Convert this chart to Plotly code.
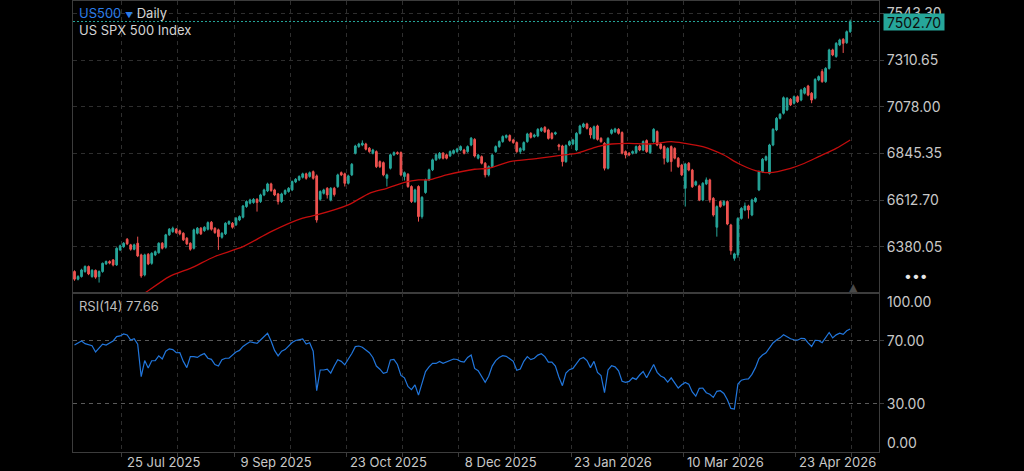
import plotly.graph_objects as go
from plotly.subplots import make_subplots

# ---------------- data ----------------
open_ = [
    6256, 6218, 6231, 6256, 6281, 6231, 6262, 6231, 6256, 6294,
    6306, 6314, 6289, 6364, 6380, 6417, 6389, 6367, 6397, 6339,
    6239, 6342, 6297, 6339, 6350, 6397, 6377, 6439, 6455, 6467,
    6459, 6447, 6422, 6397, 6372, 6447, 6472, 6460, 6467, 6502,
    6472, 6464, 6427, 6444, 6494, 6497, 6489, 6513, 6527, 6580,
    6597, 6600, 6616, 6605, 6638, 6658, 6693, 6663, 6643, 6605,
    6643, 6655, 6663, 6703, 6713, 6726, 6743, 6730, 6754, 6733,
    6616, 6646, 6671, 6613, 6671, 6680, 6749, 6743, 6696, 6738,
    6846, 6879, 6887, 6892, 6871, 6846, 6854, 6804, 6799, 6721,
    6771, 6838, 6849, 6849, 6730, 6741, 6680, 6605, 6680, 6530,
    6650, 6713, 6763, 6813, 6821, 6846, 6838, 6833, 6846, 6854,
    6862, 6862, 6854, 6887, 6915, 6821, 6829, 6796, 6738, 6779,
    6854, 6879, 6904, 6925, 6934, 6912, 6899, 6854, 6862, 6904,
    6945, 6929, 6932, 6958, 6975, 6962, 6945, 6942, 6887, 6882,
    6804, 6887, 6892, 6862, 6945, 6978, 6992, 6970, 6920, 6982,
    6920, 6895, 6771, 6945, 6953, 6965, 6949, 6854, 6846, 6846,
    6849, 6882, 6862, 6909, 6849, 6904, 6954, 6892, 6879, 6804,
    6879, 6870, 6821, 6787, 6671, 6796, 6762, 6688, 6683, 6613,
    6693, 6713, 6621, 6477, 6605, 6588, 6605, 6488, 6322, 6339,
    6521, 6563, 6583, 6538, 6605, 6663, 6754, 6812, 6746, 6887,
    6962, 7020, 7045, 7062, 7115, 7095, 7128, 7111, 7145, 7181,
    7145, 7120, 7211, 7253, 7203, 7269, 7361, 7328, 7386, 7414,
    7397, 7452,
]
high = [
    6262, 6238, 6270, 6287, 6286, 6268, 6266, 6262, 6301, 6311,
    6312, 6318, 6377, 6390, 6403, 6423, 6394, 6395, 6430, 6345,
    6345, 6348, 6352, 6361, 6402, 6403, 6444, 6473, 6480, 6473,
    6465, 6452, 6428, 6402, 6470, 6478, 6478, 6482, 6506, 6508,
    6477, 6470, 6452, 6502, 6511, 6503, 6528, 6536, 6588, 6611,
    6619, 6622, 6622, 6644, 6669, 6699, 6699, 6669, 6648, 6649,
    6666, 6677, 6710, 6722, 6736, 6749, 6749, 6755, 6760, 6740,
    6661, 6669, 6677, 6677, 6678, 6744, 6755, 6749, 6739, 6797,
    6888, 6898, 6910, 6898, 6877, 6868, 6860, 6810, 6805, 6744,
    6844, 6855, 6855, 6855, 6755, 6747, 6686, 6669, 6686, 6632,
    6719, 6769, 6819, 6844, 6852, 6852, 6844, 6860, 6865, 6873,
    6885, 6868, 6885, 6927, 6921, 6843, 6835, 6802, 6785, 6843,
    6885, 6910, 6935, 6940, 6940, 6918, 6905, 6876, 6905, 6948,
    6951, 6943, 6971, 6976, 6981, 6968, 6951, 6954, 6893, 6888,
    6890, 6910, 6918, 6951, 6988, 6998, 6998, 6976, 6984, 6988,
    6926, 6901, 6926, 6968, 6973, 6971, 6955, 6860, 6852, 6860,
    6885, 6888, 6910, 6915, 6893, 6971, 6960, 6898, 6885, 6876,
    6885, 6876, 6827, 6793, 6798, 6802, 6768, 6710, 6689, 6702,
    6725, 6719, 6627, 6586, 6611, 6611, 6611, 6494, 6350, 6527,
    6577, 6600, 6589, 6619, 6627, 6760, 6822, 6835, 6893, 6971,
    7026, 7046, 7129, 7126, 7121, 7134, 7134, 7167, 7176, 7187,
    7151, 7220, 7234, 7265, 7275, 7367, 7367, 7400, 7417, 7420,
    7458, 7512,
]
low = [
    6210, 6212, 6226, 6250, 6238, 6225, 6220, 6201, 6250, 6289,
    6292, 6282, 6284, 6358, 6374, 6388, 6360, 6362, 6328, 6225,
    6232, 6288, 6290, 6333, 6345, 6366, 6370, 6434, 6449, 6444,
    6437, 6408, 6388, 6360, 6366, 6441, 6438, 6454, 6461, 6460,
    6444, 6364, 6420, 6438, 6488, 6470, 6483, 6507, 6521, 6574,
    6591, 6594, 6555, 6598, 6632, 6652, 6653, 6632, 6590, 6598,
    6637, 6649, 6657, 6697, 6707, 6720, 6714, 6724, 6714, 6500,
    6608, 6640, 6620, 6606, 6630, 6673, 6732, 6680, 6690, 6732,
    6840, 6873, 6881, 6860, 6848, 6840, 6772, 6772, 6731, 6680,
    6765, 6832, 6838, 6731, 6710, 6673, 6598, 6598, 6505, 6520,
    6644, 6707, 6757, 6807, 6815, 6815, 6815, 6827, 6840, 6848,
    6856, 6840, 6848, 6881, 6825, 6815, 6790, 6725, 6730, 6773,
    6848, 6873, 6898, 6919, 6903, 6893, 6848, 6842, 6856, 6898,
    6919, 6923, 6926, 6952, 6947, 6914, 6914, 6936, 6860, 6780,
    6798, 6881, 6886, 6856, 6939, 6972, 6964, 6920, 6914, 6909,
    6898, 6760, 6765, 6939, 6947, 6939, 6840, 6820, 6831, 6840,
    6843, 6856, 6856, 6848, 6843, 6898, 6881, 6864, 6790, 6798,
    6754, 6815, 6773, 6732, 6580, 6756, 6673, 6682, 6607, 6607,
    6687, 6600, 6530, 6430, 6574, 6582, 6487, 6340, 6310, 6325,
    6515, 6557, 6520, 6532, 6599, 6657, 6748, 6806, 6740, 6881,
    6956, 7014, 7039, 7056, 7081, 7089, 7097, 7105, 7139, 7130,
    7095, 7114, 7205, 7197, 7197, 7263, 7330, 7322, 7380, 7346,
    7391, 7446,
]
close = [
    6218, 6231, 6264, 6281, 6244, 6262, 6228, 6256, 6297, 6306,
    6298, 6289, 6372, 6384, 6397, 6394, 6367, 6389, 6334, 6234,
    6339, 6294, 6347, 6355, 6397, 6372, 6439, 6467, 6472, 6450,
    6444, 6414, 6394, 6367, 6464, 6472, 6444, 6477, 6500, 6467,
    6450, 6430, 6447, 6497, 6505, 6477, 6522, 6530, 6583, 6605,
    6613, 6616, 6600, 6638, 6663, 6693, 6660, 6638, 6605, 6643,
    6660, 6671, 6705, 6716, 6730, 6743, 6721, 6749, 6721, 6513,
    6655, 6663, 6638, 6671, 6640, 6738, 6738, 6696, 6733, 6791,
    6882, 6892, 6896, 6866, 6854, 6862, 6779, 6779, 6738, 6738,
    6838, 6849, 6844, 6738, 6749, 6680, 6605, 6663, 6530, 6626,
    6713, 6763, 6813, 6838, 6846, 6821, 6821, 6854, 6859, 6867,
    6879, 6846, 6879, 6921, 6832, 6837, 6796, 6738, 6779, 6837,
    6879, 6904, 6929, 6934, 6909, 6899, 6854, 6870, 6899, 6942,
    6925, 6937, 6965, 6970, 6953, 6920, 6920, 6948, 6879, 6804,
    6884, 6904, 6912, 6945, 6982, 6992, 6970, 6937, 6978, 6915,
    6904, 6771, 6920, 6962, 6967, 6945, 6846, 6837, 6837, 6854,
    6879, 6862, 6904, 6854, 6887, 6965, 6887, 6870, 6821, 6870,
    6804, 6821, 6779, 6738, 6792, 6762, 6679, 6704, 6613, 6696,
    6713, 6613, 6538, 6580, 6580, 6605, 6493, 6360, 6344, 6521,
    6571, 6583, 6563, 6613, 6621, 6754, 6816, 6829, 6887, 6965,
    7020, 7040, 7123, 7120, 7087, 7128, 7103, 7161, 7170, 7136,
    7111, 7214, 7228, 7203, 7269, 7361, 7336, 7394, 7411, 7394,
    7452, 7502.70,
]
rsi = [
    67.5, 68.5, 70, 68.3, 67.4, 67, 63, 65.3, 68, 67.4,
    68.5, 70, 72.8, 73.2, 74.5, 73.8, 70.6, 71.5, 68, 47.2,
    57.5, 52.8, 57.4, 57.5, 60.5, 58.5, 63.5, 65, 64.5, 62.5,
    62.6, 57, 53, 60, 60, 59.5, 61, 62, 59, 58.3,
    55, 54, 58, 59, 59, 61, 63, 64, 66.5, 68,
    69.5, 69, 68.5, 70.6, 73, 74.9, 70, 64, 60.5, 63.5,
    64.5, 66.5, 69, 70.3, 70.6, 71.3, 68, 68.9, 63.5, 38.3,
    51.5, 51.5, 52, 49.5, 54, 58, 57, 54.8, 58.5, 62,
    66.4, 66.8, 66, 64.5, 62.5, 59.5, 54, 52, 49.4, 50,
    57.9, 58.3, 55, 48, 46.5, 41, 39, 42, 35.5, 43,
    50.5, 53.5, 55.7, 55.7, 57, 55.8, 56.8, 58, 58.5, 58.2,
    57, 56.5, 59.5, 61,
    52.5, 51, 47.5, 43.6, 47.5, 54, 57.5, 59.5, 60.6, 60.2,
    58.7, 57, 51.3, 52.1, 57, 60, 58.1, 59, 61, 61.9,
    60, 56.5, 56.5, 54, 47, 41.5, 49.6, 51.7, 52.5, 55.5,
    58.5, 59.5, 57.5, 53, 57, 50, 48, 37, 51.5, 54.2,
    53.5, 51, 44.3, 43.6, 44.2, 46.5, 45.5, 48.3, 50.5, 46.5,
    51, 55, 50, 47.7, 46.5, 43.8, 46.5, 43, 40, 42.1,
    43.6, 42.5, 37.5, 34.8, 39.8, 40, 37, 36, 34, 37.9,
    38.3, 36.5, 32.5, 27, 26.6, 42.5, 45, 45.6, 45.8, 48.7,
    53, 58.8, 61, 62.5, 65.5, 68.7, 70.6, 72, 74, 72.5,
    71.4, 70.8, 70.5, 71.7, 71.5, 68.8, 66.5, 70.4, 70.3, 68.9,
    72.5, 75.4, 72, 73.9, 75, 74.2, 76.5, 77.66,
]
# moving average line, read at sample bars
sma_bar = [16, 20, 27, 33, 40, 48, 56, 65, 69, 78, 84, 89, 94, 98, 101, 106,
           114, 118, 124, 132, 139, 143, 149, 153, 158, 164, 170, 174, 179,
           185, 189, 194, 198, 204, 208, 212, 217, 221]
sma_val = [6100, 6148, 6231, 6272, 6331, 6380, 6455, 6522, 6538, 6588, 6646,
           6671, 6701, 6713, 6713, 6738, 6766, 6771, 6804, 6820, 6837, 6845,
           6879, 6892, 6895, 6892, 6904, 6895, 6879, 6837, 6796, 6759, 6749,
           6771, 6796, 6829, 6870, 6912]

date_labels = ["25 Jul 2025", "9 Sep 2025", "23 Oct 2025", "8 Dec 2025",
               "23 Jan 2026", "10 Mar 2026", "23 Apr 2026"]
price_ticks = [6380.05, 6612.70, 6845.35, 7078.00, 7310.65, 7543.30]
rsi_ticks = [30, 70]
rsi_edge_ticks = [100, 0]

symbol = "US500"
interval = "Daily"
instrument = "US SPX 500 Index"
rsi_period = 14

# ---------------- styling ----------------
BG = "#000000"
UP = "#26a69a"
DOWN = "#ef5350"
SMA_COL = "#c40d0d"
RSI_COL = "#2176dc"
BORDER = "#3c3c3c"
GRID = "#2e2e2e"
RSI_GRID = "#5a5a5a"
TXT = "#c8c8c8"
FONT = "Inter"
AX_SIZE = 14

bars = list(range(len(close)))

# vertical grid every 16 bars, labels on every second one
grid_pos = [13.45 + 16 * k for k in range(14)]
grid_text = [date_labels[k // 2] if k % 2 == 0 else "" for k in range(14)]

fig = make_subplots(rows=2, cols=1, shared_xaxes=True, vertical_spacing=0,
                    row_heights=[292, 159])

fig.add_trace(go.Candlestick(
    x=bars, open=open_, high=high, low=low, close=close,
    increasing=dict(line=dict(color=UP, width=1), fillcolor=UP),
    decreasing=dict(line=dict(color=DOWN, width=1), fillcolor=DOWN),
    whiskerwidth=0, hoverinfo="skip", showlegend=False), row=1, col=1)

fig.add_trace(go.Scatter(
    x=sma_bar, y=sma_val, mode="lines",
    line=dict(color=SMA_COL, width=1.3, shape="spline", smoothing=0.7),
    hoverinfo="skip", showlegend=False), row=1, col=1)

fig.add_trace(go.Scatter(
    x=bars, y=rsi, mode="lines", line=dict(color=RSI_COL, width=1.2),
    hoverinfo="skip", showlegend=False), row=2, col=1)

xcommon = dict(range=[-0.43, 229.2], tickmode="array", tickvals=grid_pos,
               showgrid=True, gridcolor=GRID, griddash="4px,4px", gridwidth=1,
               showline=True, mirror=True, linecolor=BORDER, linewidth=1,
               zeroline=False, automargin=False,
               rangeslider=dict(visible=False))
fig.update_xaxes(**xcommon)
fig.update_xaxes(showticklabels=False, ticks="", row=1, col=1)
fig.update_xaxes(ticktext=grid_text, ticks="outside", ticklen=4,
                 tickcolor=BORDER, tickfont=dict(family=FONT, size=13, color=TXT),
                 ticklabelshift=42, ticklabelstandoff=-6, row=2, col=1)

ycommon = dict(side="right", tickmode="array", showgrid=True,
               griddash="4px,4px", showline=True, mirror=True,
               linecolor=BORDER, zeroline=False, automargin=False,
               ticks="outside", ticklen=4, tickcolor=BORDER,
               tickfont=dict(family=FONT, size=AX_SIZE, color=TXT))
fig.update_yaxes(range=[6149, 7605], tickvals=price_ticks,
                 ticktext=[f"{v:.2f}" for v in price_ticks],
                 gridcolor=GRID, row=1, col=1, **ycommon)
fig.update_yaxes(range=[-0.8, 100.6], tickvals=rsi_ticks,
                 ticktext=[f"{v:.2f}" for v in rsi_ticks],
                 gridcolor=RSI_GRID, row=2, col=1, **ycommon)

last = close[-1]
# current price line
fig.add_shape(type="line", xref="paper", x0=0, x1=1, yref="y", y0=last, y1=last,
              line=dict(color=UP, width=1, dash="2px,2px"), layer="above")

ann = []
ann.append(dict(xref="paper", x=1, xanchor="left", xshift=4,
                yref="y", y=last, yanchor="middle",
                text=f"{last:.2f}", showarrow=False, bgcolor=UP,
                font=dict(family=FONT, size=AX_SIZE, color="#0d0d0d"),
                width=58, height=14, borderpad=1))
ann.append(dict(xref="paper", x=0, xanchor="left", xshift=4,
                yref="paper", y=1, yanchor="middle", yshift=-12,
                text=(f"<span style='color:#2b7de9'>{symbol}</span> "
                      f"<span style='color:#2b7de9;font-size:8px'>▼</span> "
                      f"<span style='color:#d4d4d4'>{interval}</span>"),
                showarrow=False, font=dict(family=FONT, size=13, color="#d4d4d4")))
ann.append(dict(xref="paper", x=0, xanchor="left", xshift=4,
                yref="paper", y=1, yanchor="middle", yshift=-29,
                text=instrument, showarrow=False,
                font=dict(family=FONT, size=13, color="#d4d4d4")))
ann.append(dict(xref="paper", x=0, xanchor="left", xshift=4,
                yref="y2 domain", y=1, yanchor="middle", yshift=-13,
                text=f"RSI({rsi_period}) {rsi[-1]:.2f}", showarrow=False,
                font=dict(family=FONT, size=13, color="#bdbdbd")))
for v, sh in zip(rsi_edge_ticks, [-8, 8]):
    ann.append(dict(xref="paper", x=1, xanchor="left", xshift=6,
                    yref="y2", y=v, yanchor="middle", yshift=sh,
                    text=f"{v:.2f}", showarrow=False,
                    font=dict(family=FONT, size=AX_SIZE, color=TXT)))
ann.append(dict(xref="paper", x=1.0459, xanchor="center",
                yref="y domain", y=0, yanchor="middle", yshift=18,
                text="•••", showarrow=False,
                font=dict(family=FONT, size=14, color="#e6e6e6")))
ann.append(dict(xref="paper", x=0.9684, xanchor="center",
                yref="y domain", y=0, yanchor="bottom", yshift=-3,
                text="▲", showarrow=False,
                font=dict(family="DejaVu Sans", size=11, color="#4a4a4a")))

fig.update_layout(
    width=1024, height=471,
    margin=dict(l=73, r=145, t=1, b=19, autoexpand=False),
    paper_bgcolor=BG, plot_bgcolor=BG,
    showlegend=False, annotations=ann,
    font=dict(family=FONT, size=13, color=TXT),
    hovermode=False,
)

fig.write_html("out.html")
